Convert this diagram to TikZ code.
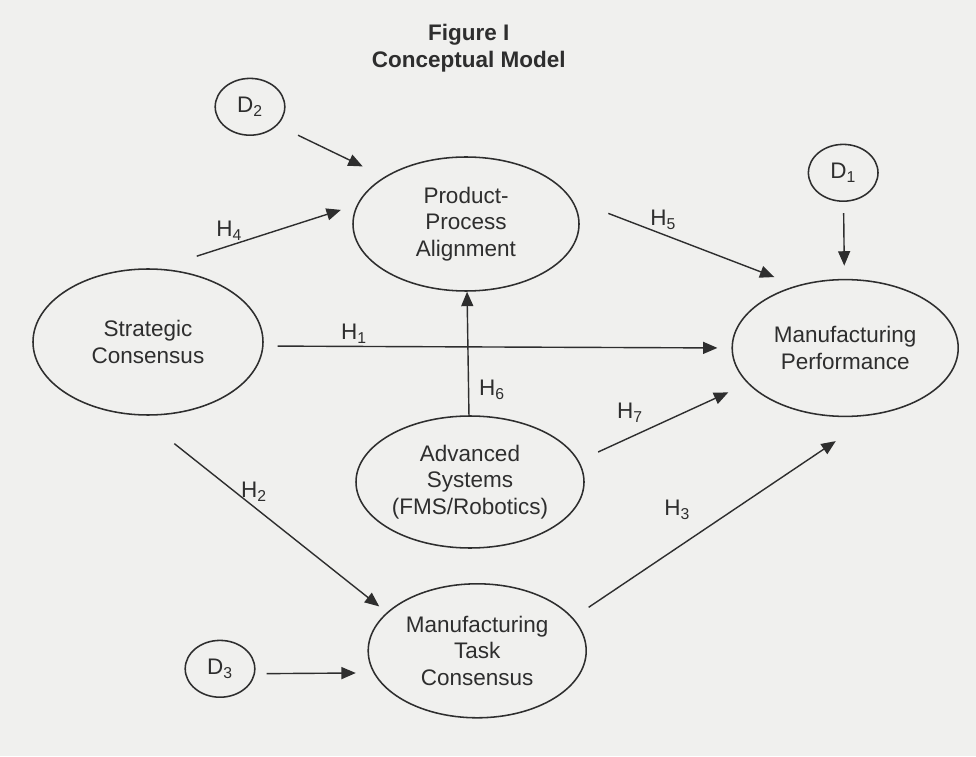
\documentclass[tikz,border=0pt]{standalone}
\usepackage{fontspec}
\setmainfont{Liberation Sans}
\usepackage{xcolor}
\usepackage{tikz}
\usetikzlibrary{arrows.meta,shapes.geometric}
\definecolor{paper}{HTML}{F0F0EE}
\definecolor{ink}{HTML}{2E2E2E}

\tikzset{
  construct/.style={draw=ink, line width=1.1pt, ellipse, inner sep=0pt, align=center, text=ink, font=\fontsize{16}{19}\selectfont},
  distbox/.style={construct, minimum width=1.74cm, minimum height=1.42cm},
  hyp/.style={text=ink, font=\fontsize{16}{19}\selectfont},
  link/.style={draw=ink, line width=1pt, -{Triangle[length=0.36cm, width=0.3cm]}},
}

\begin{document}
\begin{tikzpicture}
  \fill[paper] (0,0) rectangle (24.4,18.9);
  \node[font=\fontsize{16}{19.5}\selectfont\bfseries, text=ink, align=center] (title) at (11.72,17.7) {Figure I\\Conceptual Model};

  \node[construct, minimum width=5.75cm, minimum height=3.65cm] (sc) at (3.70,10.35) {Strategic\\Consensus};
  \node[construct, minimum width=5.65cm, minimum height=3.35cm] (ppa) at (11.65,13.30) {Product-\\Process\\Alignment};
  \node[construct, minimum width=5.65cm, minimum height=3.42cm] (mp) at (21.13,10.20) {Manufacturing\\Performance};
  \node[construct, minimum width=5.70cm, minimum height=3.30cm] (adv) at (11.75,6.85) {Advanced\\Systems\\(FMS/Robotics)};
  \node[construct, minimum width=5.45cm, minimum height=3.35cm] (mtc) at (11.93,2.63) {Manufacturing\\Task\\Consensus};

  \node[distbox] (d1) at (21.08,14.58) {D\textsubscript{1}};
  \node[distbox] (d2) at (6.25,16.23) {D\textsubscript{2}};
  \node[distbox] (d3) at (5.50,2.18) {D\textsubscript{3}};

  \draw[link, shorten <=0.57cm, shorten >=0.60cm] (d2.-34.1) -- (ppa.150.3);
  \draw[link, shorten <=1.01cm, shorten >=0.42cm] (sc.82.6) -- (ppa.170.6);
  \draw[link] (adv) -- (ppa);
  \draw[link, shorten <=0.97cm, shorten >=0.59cm] (ppa.13.4) -- (mp.128);
  \draw[link, shorten <=0.28cm, shorten >=0.33cm] (d1) -- (mp);
  \draw[link, shorten <=0.35cm, shorten >=0.35cm] (sc.-2.5) -- (mp.180);
  \draw[link, shorten <=0.53cm, shorten >=0.53cm] (adv.11.3) -- (mp.200.9);
  \draw[link, shorten <=0.47cm, shorten >=1.18cm] (mtc.19.5) -- (mp.-66.2);
  \draw[link, shorten <=1.13cm, shorten >=0.24cm] (sc.263.6) -- (mtc.157);
  \draw[link, shorten <=0.29cm, shorten >=0.44cm] (d3.-8.2) -- (mtc.192.7);

  \node[hyp] (h1) at (8.85,10.55) {H\textsubscript{1}};
  \node[hyp] (h2) at (6.35,6.60) {H\textsubscript{2}};
  \node[hyp] (h3) at (16.93,6.15) {H\textsubscript{3}};
  \node[hyp] (h4) at (5.73,13.13) {H\textsubscript{4}};
  \node[hyp] (h5) at (16.58,13.40) {H\textsubscript{5}};
  \node[hyp] (h6) at (12.30,9.15) {H\textsubscript{6}};
  \node[hyp] (h7) at (15.75,8.58) {H\textsubscript{7}};
\end{tikzpicture}
\end{document}
